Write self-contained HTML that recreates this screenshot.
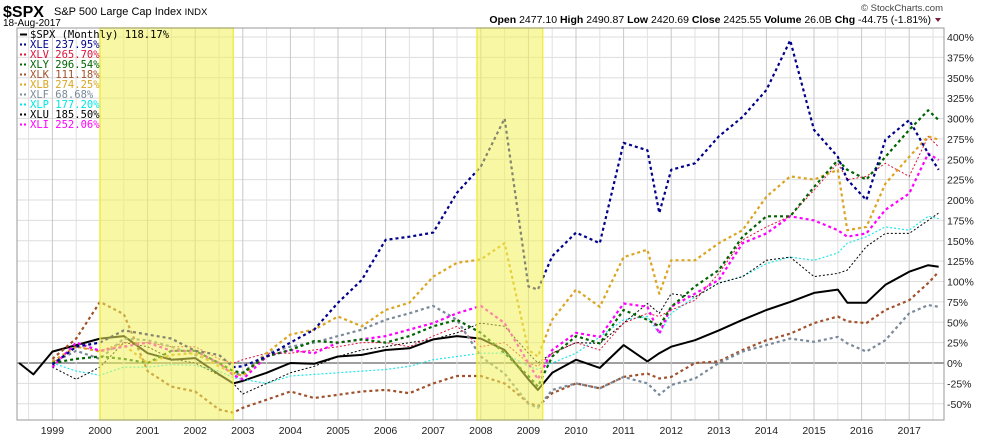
<!DOCTYPE html>
<html><head><meta charset="utf-8"><style>
html,body{margin:0;padding:0;background:#fff;width:990px;height:438px;overflow:hidden}
svg{display:block;font-family:"Liberation Sans",sans-serif}
</style></head><body>
<svg id="chart" width="990" height="438" xmlns="http://www.w3.org/2000/svg">
<g id="grid"></g>
<g id="series"></g>
<g id="bands"></g>
<g id="axes"></g>
<g>
<text x="3" y="17" font-size="16" font-weight="bold">$SPX</text>
<text x="54" y="15" font-size="11">S&amp;P 500 Large Cap Index <tspan font-size="9.5">INDX</tspan></text>
<text x="3" y="26" font-size="10">18-Aug-2017</text>
<text x="943" y="11" font-size="9.5" text-anchor="end" fill="#444">© StockCharts.com</text>
<text x="931" y="23" font-size="10.5" text-anchor="end"><tspan font-weight="bold">Open</tspan> 2477.10 <tspan font-weight="bold">High</tspan> 2490.87 <tspan font-weight="bold">Low</tspan> 2420.69 <tspan font-weight="bold">Close</tspan> 2425.55 <tspan font-weight="bold">Volume</tspan> 26.0B <tspan font-weight="bold">Chg</tspan> -44.75 (-1.81%)</text>
<path d="M935 18 l6 0 l-3 4 z" fill="#7a1f3d"/>
</g>
<g id="legend"></g>
</svg>
<script>
const dates=[1998.3,1998.6,1999.0,1999.5,2000.0,2000.5,2001.0,2001.5,2002.0,2002.5,2002.8,2003.0,2003.5,2004.0,2004.5,2005.0,2005.5,2006.0,2006.5,2007.0,2007.5,2008.0,2008.5,2009.0,2009.2,2009.5,2010.0,2010.5,2011.0,2011.5,2011.75,2012.0,2012.5,2013.0,2013.5,2014.0,2014.5,2015.0,2015.5,2015.7,2016.1,2016.5,2017.0,2017.4,2017.62];
const spx=[0,-14,14,22,30,33,12,4,6,-14,-25,-22,-12,0,-1,8,10,16,18,29,33,30,16,-20,-33,-12,4,-6,22,2,12,20,28,40,53,65,75,86,90,74,74,96,112,120,118];
const xle=[null,null,-2,20,25,40,35,30,15,10,-5,-4,8,25,41,74,102,151,155,160,209,241,300,94,90,131,160,147,270,261,184,237,245,278,302,335,396,286,253,225,200,274,298,257,237];
const xlv=[null,null,0,20,15,25,25,20,20,5,0,4,12,12,16,20,25,25,20,33,45,20,25,0,-4,12,25,16,49,61,57,65,77,110,151,167,180,212,245,225,229,245,229,278,265];
const xly=[null,null,0,5,8,5,0,15,15,0,-10,-12,8,16,27,25,29,25,33,45,53,37,12,-16,-29,8,33,24,65,53,45,69,94,114,155,180,180,216,249,237,225,253,286,310,298];
const xlk=[null,null,5,30,75,60,-10,-29,-35,-57,-61,-55,-45,-35,-43,-39,-35,-33,-37,-25,-16,-16,-25,-49,-53,-37,-25,-31,-17,-13,-19,-17,0,2,16,28,36,49,57,51,49,65,77,98,112];
const xlb=[null,null,2,20,14,22,0,10,12,-4,-12,-16,12,35,41,57,45,65,74,106,123,127,147,16,8,53,90,69,130,139,85,126,126,147,163,204,229,225,237,163,167,220,253,278,274];
const xlf=[null,null,0,15,5,30,28,20,10,0,-15,-12,12,20,25,33,41,53,61,70,53,8,-13,-50,-55,-33,-25,-31,-17,-25,-39,-27,-19,0,14,22,30,26,32,24,14,28,61,71,69];
const xlp=[null,null,0,-10,-15,-5,-5,-2,-3,-10,-18,-20,-25,-16,-14,-12,-10,-8,-4,4,8,12,12,-4,-8,0,12,32,53,57,36,61,81,98,106,122,130,126,135,147,155,167,163,180,177];
const xlu=[null,null,-5,-20,-5,25,20,5,0,-15,-25,-38,-25,-12,-4,8,16,20,25,29,37,49,45,12,0,12,25,24,49,73,61,85,81,98,106,126,130,106,110,114,143,159,159,175,184];
const xli=[null,null,-5,25,15,20,25,15,15,0,-15,-20,8,16,12,25,29,33,41,49,61,70,49,0,-20,16,37,32,73,69,36,69,85,102,147,159,180,175,163,155,159,188,208,257,249];
const yTicks=[-50,-25,0,25,50,75,100,125,150,175,200,225,250,275,300,325,350,375,400];
const yearLabels=[1999,2000,2001,2002,2003,2004,2005,2006,2007,2008,2009,2010,2011,2012,2013,2014,2015,2016,2017];
const bandStarts=[2000.0,2007.92];
const bandEnds=[2002.8,2009.3];
const legendNames=["$SPX (Monthly)","XLE","XLV","XLY","XLK","XLB","XLF","XLP","XLU","XLI"];
const legendValues=["118.17%","237.95%","265.70%","296.54%","111.18%","274.25%","68.68%","177.20%","185.50%","252.06%"];

const NS="http://www.w3.org/2000/svg";
const L=17,R=944,T=28,B=420;
const xs=d=>100+(d-2000)*47.6;
const ys=v=>363-v*20.375/25;
function mk(tag,attrs,parent){const e=document.createElementNS(NS,tag);for(const k in attrs)e.setAttribute(k,attrs[k]);parent.appendChild(e);return e;}
const grid=document.getElementById('grid'),axes=document.getElementById('axes'),ser=document.getElementById('series'),bands=document.getElementById('bands'),leg=document.getElementById('legend');

yTicks.forEach(v=>{
  const ln=mk('line',{x1:L,x2:R,y1:ys(v),y2:ys(v),stroke:v===0?'#666':'#ddd','stroke-width':v===0?1.3:1},grid);
  
  
  const t=mk('text',{x:R+3,y:ys(v)+4,'font-size':10.5,fill:'#222'},axes);
  t.textContent=v+'%';
  
  
});
for(let d=1998.5;d<2018;d+=0.5){
  const x=xs(d);if(x<=L||x>=R)continue;
  const yr=Math.abs(d-Math.round(d))<0.01;
  const ln=mk('line',{x1:x,x2:x,y1:T,y2:B,stroke:yr?'#c8c8c8':'#e2e2e2','stroke-width':1},grid);
  
  
}
yearLabels.forEach(y=>{
  const t=mk('text',{x:xs(y),y:434,'font-size':10.5,'text-anchor':'middle',fill:'#222'},axes);
  t.textContent=y;
  
  
});
const frame=mk('rect',{x:L,y:T,width:R-L,height:B-T,fill:'none',stroke:'#999','stroke-width':1},axes);



const styles=[
 [spx,'#000',2,'none','spx-line'],
 [xlp,'#22e6e6',1.2,'2 2','xlp-line'],
 [xlu,'#000',1,'2 2','xlu-line'],
 [xlv,'#dc143c',1,'2 2','xlv-line'],
 [xlk,'#a0522d',2.2,'3 3','xlk-line'],
 [xlf,'#7a8a9a',2.2,'3 3','xlf-line'],
 [xlb,'#daa520',2.2,'3 3','xlb-line'],
 [xli,'#ff00ff',2.2,'3 3','xli-line'],
 [xly,'#006400',2.2,'3 3','xly-line'],
 [xle,'#00008b',2.2,'3 3','xle-line']
];
styles.forEach(s=>{
  let d='';let pen=false;
  s[0].forEach((v,i)=>{if(v===null){pen=false;return;}d+=(pen?'L':'M')+xs(dates[i]).toFixed(1)+' '+ys(v).toFixed(1);pen=true;});
  const p=mk('path',{d:d,fill:'none',stroke:s[1],'stroke-width':s[2],'stroke-dasharray':s[3],'stroke-linejoin':'round'},ser);
  
  
});
bandStarts.forEach((b,i)=>{
  const r=mk('rect',{x:xs(b),y:T,width:xs(bandEnds[i])-xs(b),height:B-T,fill:'rgba(242,242,90,0.55)',stroke:'rgba(240,235,60,0.9)','stroke-width':1.5},bands);
  
  
});
const legColors=['#000','#00008b','#dc143c','#006400','#a0522d','#daa520','#7a8a9a','#00e5e5','#000','#ff00ff'];
legendNames.forEach((n,i)=>{
  const y=38+i*10;
  const sw=mk('line',{x1:20,x2:i===0?27:26,y1:y-3.5,y2:y-3.5,stroke:legColors[i],'stroke-width':2,'stroke-dasharray':i===0?'none':'2 2'},leg);
  
  
  const t=mk('text',{x:30,y:y,'font-size':10.5,fill:legColors[i],'font-family':'"DejaVu Sans Mono","Liberation Mono",monospace'},leg);
  t.textContent=n+' '+legendValues[i];
  
  
});
</script>
</body></html>
